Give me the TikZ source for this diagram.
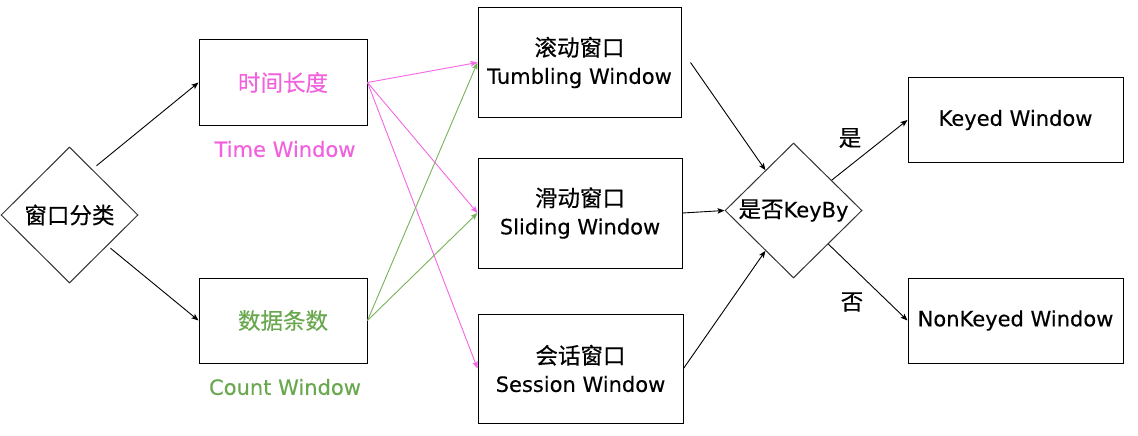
\documentclass[tikz,border=0pt]{standalone}
\usepackage{fontspec}
\setmainfont[FakeBold=0.3]{DejaVu Sans}
\newfontfamily\cjk[FakeBold=0.4]{Noto Sans CJK SC}
\usetikzlibrary{shapes.geometric,arrows.meta,calc}
\definecolor{pinkt}{RGB}{240,98,222}
\definecolor{pinkl}{RGB}{245,102,230}
\definecolor{greent}{RGB}{106,168,79}
\definecolor{greenl}{RGB}{120,178,90}
\newcommand\zh[1]{{\cjk\fontsize{22.5}{28}\selectfont #1}}
\begin{document}
\begin{tikzpicture}[x=1pt,y=-1pt,
  box/.style={draw=black,line width=1pt,inner sep=0pt,align=center,font=\fontsize{21}{28}\selectfont},
  dia/.style={draw=black!80,line width=1pt,diamond,inner sep=0pt,font=\fontsize{21}{28}\selectfont},
  lbl/.style={font=\fontsize{21}{28}\selectfont,inner sep=0pt},
  arr/.style={line width=0.9pt,-{Stealth[length=7pt,width=5.5pt,inset=1.5pt]}},
]
\useasboundingbox (0,0) rectangle (1138,436);

\node[dia,minimum width=137pt,minimum height=136pt] (d1) at (69.5,215) {\zh{窗口分类}};

\node[box,minimum width=168pt,minimum height=85pt,text=pinkt] (tl) at (283,82.5) {\zh{时间长度}};
\node[lbl,text=pinkt] (tw) at (285,149) {Time Window};
\node[box,minimum width=168pt,minimum height=85pt,text=greent] (cl) at (283,320.5) {\zh{数据条数}};
\node[lbl,text=greent] (cw) at (285,387) {Count Window};

\node[box,minimum width=203pt,minimum height=109pt] (t1) at (579.5,62.5) {\zh{滚动窗口}\\Tumbling Window};
\node[box,minimum width=204pt,minimum height=110pt] (s1) at (580,213) {\zh{滑动窗口}\\Sliding Window};
\node[box,minimum width=205pt,minimum height=109pt] (se) at (580.5,368.5) {\zh{会话窗口}\\Session Window};

\node[dia,minimum width=137pt,minimum height=135pt] (d2) at (793.5,210.5) {\zh{是否}KeyBy};

\node[box,minimum width=215pt,minimum height=84pt] (k) at (1015.5,120) {Keyed Window};
\node[box,minimum width=215pt,minimum height=85pt] (nk) at (1015.5,320.5) {NonKeyed Window};

\node[lbl] (yes) at (850,138) {\zh{是}};
\node[lbl] (no) at (852,302) {\zh{否}};

\draw[arr] ($(d1.north east)+(-7.5,-15)$) -- (tl.west);
\draw[arr] ($(d1.south east)+(6.5,-1)$) -- (cl.west);

\draw[arr,pinkl] (tl.east) -- (t1.west);
\draw[arr,pinkl] (tl.east) -- (s1.west);
\draw[arr,pinkl] (tl.east) -- (se.west);
\draw[arr,greenl] (cl.east) -- (t1.west);
\draw[arr,greenl] (cl.east) -- (s1.west);

\draw[arr] ($(t1.east)+(9,0)$) -- (d2);
\draw[arr] (s1.east) -- (d2.west);
\draw[arr] (se.east) -- (d2);
\draw[arr] (d2) -- (k.west);
\draw[arr] (d2) -- (nk.west);
\end{tikzpicture}
\end{document}
